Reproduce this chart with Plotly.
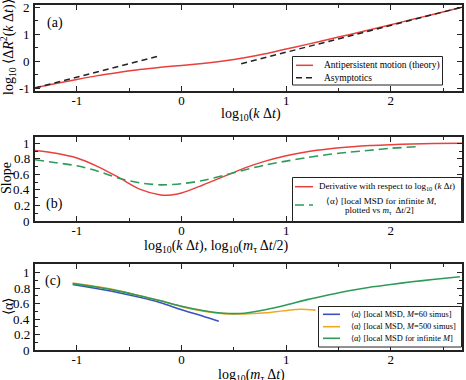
import plotly.graph_objects as go

# ---------------- data ----------------
# panel (a)
xa = [-1.4, -1.2, -1.0, -0.8, -0.6, -0.4, -0.2, 0.0, 0.2, 0.4, 0.6, 0.8, 1.0,
      1.2, 1.4, 1.6, 1.8, 2.0, 2.2, 2.4, 2.68]
ya = [-0.99, -0.83, -0.68, -0.54, -0.42, -0.31, -0.23, -0.16, -0.09, 0.0, 0.12,
      0.27, 0.45, 0.62, 0.80, 0.98, 1.16, 1.35, 1.54, 1.73, 2.0]
asym1_x = [-1.4, -0.2]
asym1_y = [-1.0, 0.2]
asym2_x = [0.57, 2.68]
asym2_y = [-0.1, 2.0]

# panel (b)
xb_red = [-1.4, -1.2, -1.0, -0.8, -0.6, -0.4, -0.2, -0.1, 0.0, 0.2, 0.4, 0.6,
          0.8, 1.0, 1.2, 1.4, 1.6, 1.8, 2.0, 2.2, 2.4, 2.68]
yb_red = [0.905, 0.87, 0.81, 0.70, 0.56, 0.41, 0.335, 0.335, 0.36, 0.46, 0.57,
          0.68, 0.77, 0.84, 0.89, 0.925, 0.95, 0.97, 0.98, 0.99, 0.995, 1.0]
xb_green = [-1.4, -1.2, -1.0, -0.8, -0.6, -0.4, -0.2, 0.0, 0.2, 0.4, 0.6, 0.8,
            1.0, 1.2, 1.4, 1.6, 1.8, 2.0, 2.25]
yb_green = [0.787, 0.75, 0.71, 0.64, 0.55, 0.49, 0.465, 0.48, 0.52, 0.585, 0.655,
            0.72, 0.77, 0.815, 0.855, 0.885, 0.91, 0.935, 0.955]

# panel (c)
xc_blue = [-1.04, -0.8, -0.6, -0.4, -0.2, 0.0, 0.2, 0.356]
yc_blue = [0.845, 0.79, 0.74, 0.68, 0.61, 0.52, 0.44, 0.37]
xc_orange = [-1.04, -0.8, -0.6, -0.4, -0.2, 0.0, 0.2, 0.4, 0.6, 0.8, 1.0, 1.14, 1.28]
yc_orange = [0.865, 0.815, 0.765, 0.70, 0.635, 0.56, 0.505, 0.47, 0.465, 0.48,
             0.51, 0.525, 0.515]
xc_green = [-1.04, -0.8, -0.6, -0.4, -0.2, 0.0, 0.2, 0.4, 0.5, 0.6, 0.8, 1.0,
            1.2, 1.4, 1.6, 1.8, 2.0, 2.2, 2.4, 2.66]
yc_green = [0.857, 0.81, 0.76, 0.70, 0.635, 0.565, 0.51, 0.475, 0.47, 0.475,
            0.52, 0.58, 0.65, 0.71, 0.765, 0.81, 0.845, 0.88, 0.91, 0.945]

x_ticks = [-1, 0, 1, 2]
x_ticktext = ["-1", "0", "1", "2"]
x_minor = [-0.5, 0.5, 1.5, 2.5]
ya_ticks = [-1, 0, 1, 2]
ya_ticktext = ["-1", "0", "1", "2"]
ya_minor = [-0.5, 0.5, 1.5]
ybc_ticks = [0, 0.2, 0.4, 0.6, 0.8, 1]
ybc_ticktext = ["0", "0.2", "0.4", "0.6", "0.8", "1"]
ybc_minor = [0.1, 0.3, 0.5, 0.7, 0.9]

leg_a = ["Antipersistent motion (theory)", "Asymptotics"]
leg_b = ["Derivative with respect to log<sub>10</sub> (<i>k</i> Δ<i>t</i>)",
         "⟨α⟩ [local MSD for infinite <i>M</i>,", "plotted vs <i>m</i><sub>τ</sub>  Δ<i>t</i>/2]"]
leg_c = ["⟨α⟩ [local MSD, <i>M</i>=60 simus]", "⟨α⟩ [local MSD, <i>M</i>=500 simus]",
         "⟨α⟩ [local MSD for infinite <i>M</i>]"]

RED = "#e8403c"
GREEN = "#2e9b5a"
BLUE = "#3a52c0"
ORANGE = "#f0a820"
DARK = "#222222"
FONT = "Liberation Serif"
DASH_A = "6px,4px"
DASH_B = "9px,5px"

W, H = 466, 380
ML, MR = 35, 4

fig = go.Figure()
spl = dict(shape="spline", smoothing=0.8)


def add_line(x, y, color, width, axis, name, dash="solid", smooth=True):
    ln = dict(color=color, width=width, dash=dash)
    if smooth:
        ln.update(spl)
    fig.add_trace(go.Scatter(x=x, y=y, mode="lines", line=ln, name=name, showlegend=False,
                             xaxis="x" + axis, yaxis="y" + axis))


add_line(xa, ya, RED, 1.5, "", leg_a[0])
add_line(asym1_x, asym1_y, DARK, 1.5, "", leg_a[1], dash=DASH_A, smooth=False)
add_line(asym2_x, asym2_y, DARK, 1.5, "", leg_a[1], dash=DASH_A, smooth=False)
add_line(xb_red, yb_red, RED, 1.5, "2", "Derivative")
add_line(xb_green, yb_green, GREEN, 1.6, "2", "alpha infinite M", dash=DASH_B)
add_line(xc_blue, yc_blue, BLUE, 1.6, "3", "M=60")
add_line(xc_orange, yc_orange, ORANGE, 1.6, "3", "M=500")
add_line(xc_green, yc_green, GREEN, 1.6, "3", "infinite M")


def ydom(top, bot):
    return [1 - bot / H, 1 - top / H]


axis_common = dict(showline=True, linecolor=DARK, linewidth=1.5, mirror="ticks",
                   ticks="inside", ticklen=5, tickwidth=1.2, tickcolor=DARK,
                   showgrid=False, zeroline=False, ticklabeloverflow="allow",
                   tickfont=dict(family=FONT, size=13, color="black"))


def xax(anchor):
    return dict(axis_common, domain=[0, 1], range=[-1.4, 2.68], anchor=anchor,
                tickmode="array", tickvals=x_ticks, ticktext=x_ticktext, ticklabelstandoff=-3,
                minor=dict(ticks="inside", ticklen=3, tickcolor=DARK, tickvals=x_minor))


def yax(anchor, dom, rng, tv, mv):
    return dict(axis_common, domain=dom, range=rng, anchor=anchor,
                tickmode="array", tickvals=tv, showticklabels=False,
                minor=dict(ticks="inside", ticklen=3, tickcolor=DARK, tickvals=mv))


fig.update_layout(
    width=W, height=H, margin=dict(l=ML, r=MR, t=0, b=0, pad=0),
    paper_bgcolor="white", plot_bgcolor="white",
    font=dict(family=FONT, color="black"),
    showlegend=False,
    xaxis=xax("y"),
    xaxis2=xax("y2"),
    xaxis3=xax("y3"),
    yaxis=yax("x", ydom(5, 91), [-1.11, 2.08], ya_ticks, ya_minor),
    yaxis2=yax("x2", ydom(137, 221), [0, 1.08], ybc_ticks, ybc_minor),
    yaxis3=yax("x3", ydom(264, 350), [0, 1.11], ybc_ticks, ybc_minor),
)

ann = []
shapes = []


def px(x):
    # pixel -> paper x (paper spans the plot width between margins)
    return (x - ML) / (W - ML - MR)


# y tick labels, positioned by the y axes' own scales
for yref, tv, tt in [("y", ya_ticks, ya_ticktext), ("y2", ybc_ticks, ybc_ticktext),
                     ("y3", ybc_ticks, ybc_ticktext)]:
    for v, t in zip(tv, tt):
        ann.append(dict(text=t, x=px(31.5), y=v, xref="paper", yref=yref, showarrow=False,
                        xanchor="right", yanchor="middle",
                        font=dict(family=FONT, size=13, color="black")))


def add_text(text, x, y, size=14, angle=0, xanchor="center", yanchor="middle"):
    ann.append(dict(text=text, x=px(x), y=1 - y / H, xref="paper", yref="paper",
                    showarrow=False, textangle=angle, xanchor=xanchor, yanchor=yanchor,
                    font=dict(family=FONT, size=size, color="black")))


def add_box(x0, y0, x1, y1):
    shapes.append(dict(type="rect", xref="paper", yref="paper",
                       x0=px(x0), x1=px(x1), y0=1 - y1 / H, y1=1 - y0 / H,
                       line=dict(color=DARK, width=1), fillcolor="white", layer="above"))


def add_sample(x0, x1, y, color, dash="solid", width=1.6):
    shapes.append(dict(type="line", xref="paper", yref="paper",
                       x0=px(x0), x1=px(x1), y0=1 - y / H, y1=1 - y / H,
                       line=dict(color=color, width=width, dash=dash), layer="above"))


# axis titles & panel labels
add_text("log<sub>10</sub>(<i>k</i> Δ<i>t</i>)", 251, 115)
add_text("log<sub>10</sub>(<i>k</i> Δ<i>t</i>), log<sub>10</sub>(<i>m</i><sub>τ</sub> Δ<i>t</i>/2)", 216, 246)
add_text("log<sub>10</sub>(<i>m</i><sub>τ</sub> Δ<i>t</i>)", 251, 375)
add_text("log<sub>10</sub> ⟨Δ<i>R</i><sup>2</sup>(<i>k</i> Δ<i>t</i>)⟩", 8, 47, size=14, angle=-90)
add_text("Slope", 6, 178, size=14, angle=-90)
add_text("⟨α⟩", 8, 307, size=14, angle=-90)
add_text("(a)", 55, 23, size=14)
add_text("(b)", 54, 204, size=14)
add_text("(c)", 53, 281, size=14)

# legend (a)
add_box(292.5, 56.5, 442.5, 85)
add_sample(296, 313, 65.3, RED, width=1.5)
add_sample(296, 313, 77.7, DARK, dash=DASH_A, width=1.5)
add_text(leg_a[0], 322, 65.3, size=9.5, xanchor="left")
add_text(leg_a[1], 322, 77.7, size=9.5, xanchor="left")

# legend (b)
add_box(292.5, 177.5, 461.5, 221.5)
add_sample(295, 313, 186.7, RED, width=1.5)
add_sample(295, 313, 205, GREEN, dash=DASH_B)
add_text(leg_b[0], 317, 186.7, size=9, xanchor="left")
add_text(leg_b[1], 381, 200.5, size=9)
add_text(leg_b[2], 379, 211, size=9)

# legend (c)
add_box(318.5, 306.5, 461.5, 347)
for yy, col, txt in zip([314.3, 326.7, 338.3], [BLUE, ORANGE, GREEN], leg_c):
    add_sample(323, 340, yy, col)
    add_text(txt, 349, yy, size=8.4, xanchor="left")

fig.update_layout(annotations=ann, shapes=shapes)

fig.write_html("out.html")
